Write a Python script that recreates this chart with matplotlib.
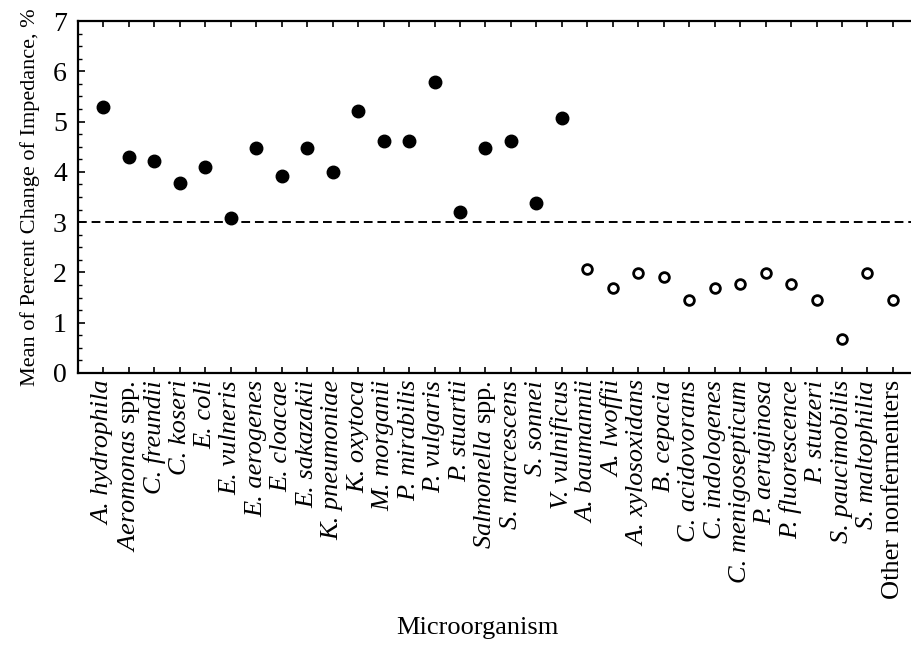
import numpy as np
import matplotlib
matplotlib.use('Agg')
import matplotlib.pyplot as plt
from matplotlib.ticker import MultipleLocator

plt.rcParams['font.family'] = ['Liberation Serif', 'DejaVu Serif']
plt.rcParams['mathtext.fontset'] = 'custom'
plt.rcParams['mathtext.rm'] = 'Liberation Serif'
plt.rcParams['mathtext.it'] = 'Liberation Serif:italic'

# бродильщики (закрашенные точки)
fermenters = ['A. hydrophila', 'Aeromonas spp.', 'C. freundii', 'C. koseri', 'E. coli',
              'E. vulneris', 'E. aerogenes', 'E. cloacae', 'E. sakazakii', 'K. pneumoniae',
              'K. oxytoca', 'M. morganii', 'P. mirabilis', 'P. vulgaris', 'P. stuartii',
              'Salmonella spp.', 'S. marcescens', 'S. sonnei', 'V. vulnificus']
fermenter_vals = [5.30, 4.30, 4.21, 3.78, 4.09, 3.08, 4.48, 3.91, 4.48, 4.00,
                  5.21, 4.61, 4.61, 5.78, 3.20, 4.48, 4.61, 3.38, 5.08]

# неферментирующие (пустые кружки)
nonfermenters = ['A. baumannii', 'A. lwoffii', 'A. xylosoxidans', 'B. cepacia',
                 'C. acidovorans', 'C. indologenes', 'C. menigosepticum', 'P. aeruginosa',
                 'P. fluorescence', 'P. stutzeri', 'S. paucimobilis', 'S. maltophilia',
                 'Other nonfermenters']
nonfermenter_vals = [2.07, 1.69, 1.99, 1.90, 1.46, 1.69, 1.77, 1.99,
                     1.77, 1.46, 0.68, 1.99, 1.46]

threshold = 3.0

labels = fermenters + nonfermenters
x1 = np.arange(len(fermenters))
x2 = np.arange(len(fermenters), len(labels))

fig = plt.figure(figsize=(9.12, 6.49), dpi=100)
ax = fig.add_axes([0.0855, 0.4253, 0.9145, 0.5423])

ax.plot(x1, fermenter_vals, 'o', color='black', markersize=9)
ax.plot(x2, nonfermenter_vals, 'o', markerfacecolor='white', markeredgecolor='black',
        markersize=7, markeredgewidth=2)
ax.axhline(threshold, color='black', linestyle=(0, (4.5, 2.5)), linewidth=1.4)

ax.set_xlim(-1.0, len(labels) - 0.25)
ax.set_ylim(0, 7)
ax.set_xticks(np.arange(len(labels)))

# подписи: курсив, "spp." и "Other ..." прямым шрифтом
tick_texts = []
for name in labels:
    if name.endswith(' spp.'):
        tick_texts.append(r'$\mathit{' + name[:-5] + r'}$ spp.')
    else:
        tick_texts.append(name)
ax.set_xticklabels(tick_texts, rotation=90, fontsize=19)
for lbl, name in zip(ax.get_xticklabels(), labels):
    if not name.endswith(' spp.') and not name.startswith('Other'):
        lbl.set_fontstyle('italic')

ax.yaxis.set_major_locator(MultipleLocator(1))
ax.yaxis.set_minor_locator(MultipleLocator(0.25))
ax.tick_params(axis='y', labelsize=20, direction='in', length=5, width=1.2, pad=8)
ax.tick_params(axis='y', which='minor', direction='in', length=3, width=1.0)
ax.tick_params(axis='x', direction='in', length=4, width=1.2, top=True, pad=5)

for s in ['left', 'top', 'bottom']:
    ax.spines[s].set_linewidth(1.6)
ax.spines['right'].set_visible(False)

ax.set_ylabel('Mean of Percent Change of Impedance, %', fontsize=16, labelpad=9)
fig.text(0.524, 0.033, 'Microorganism', ha='center', va='center', fontsize=19)

fig.savefig('out.png', dpi=100)
